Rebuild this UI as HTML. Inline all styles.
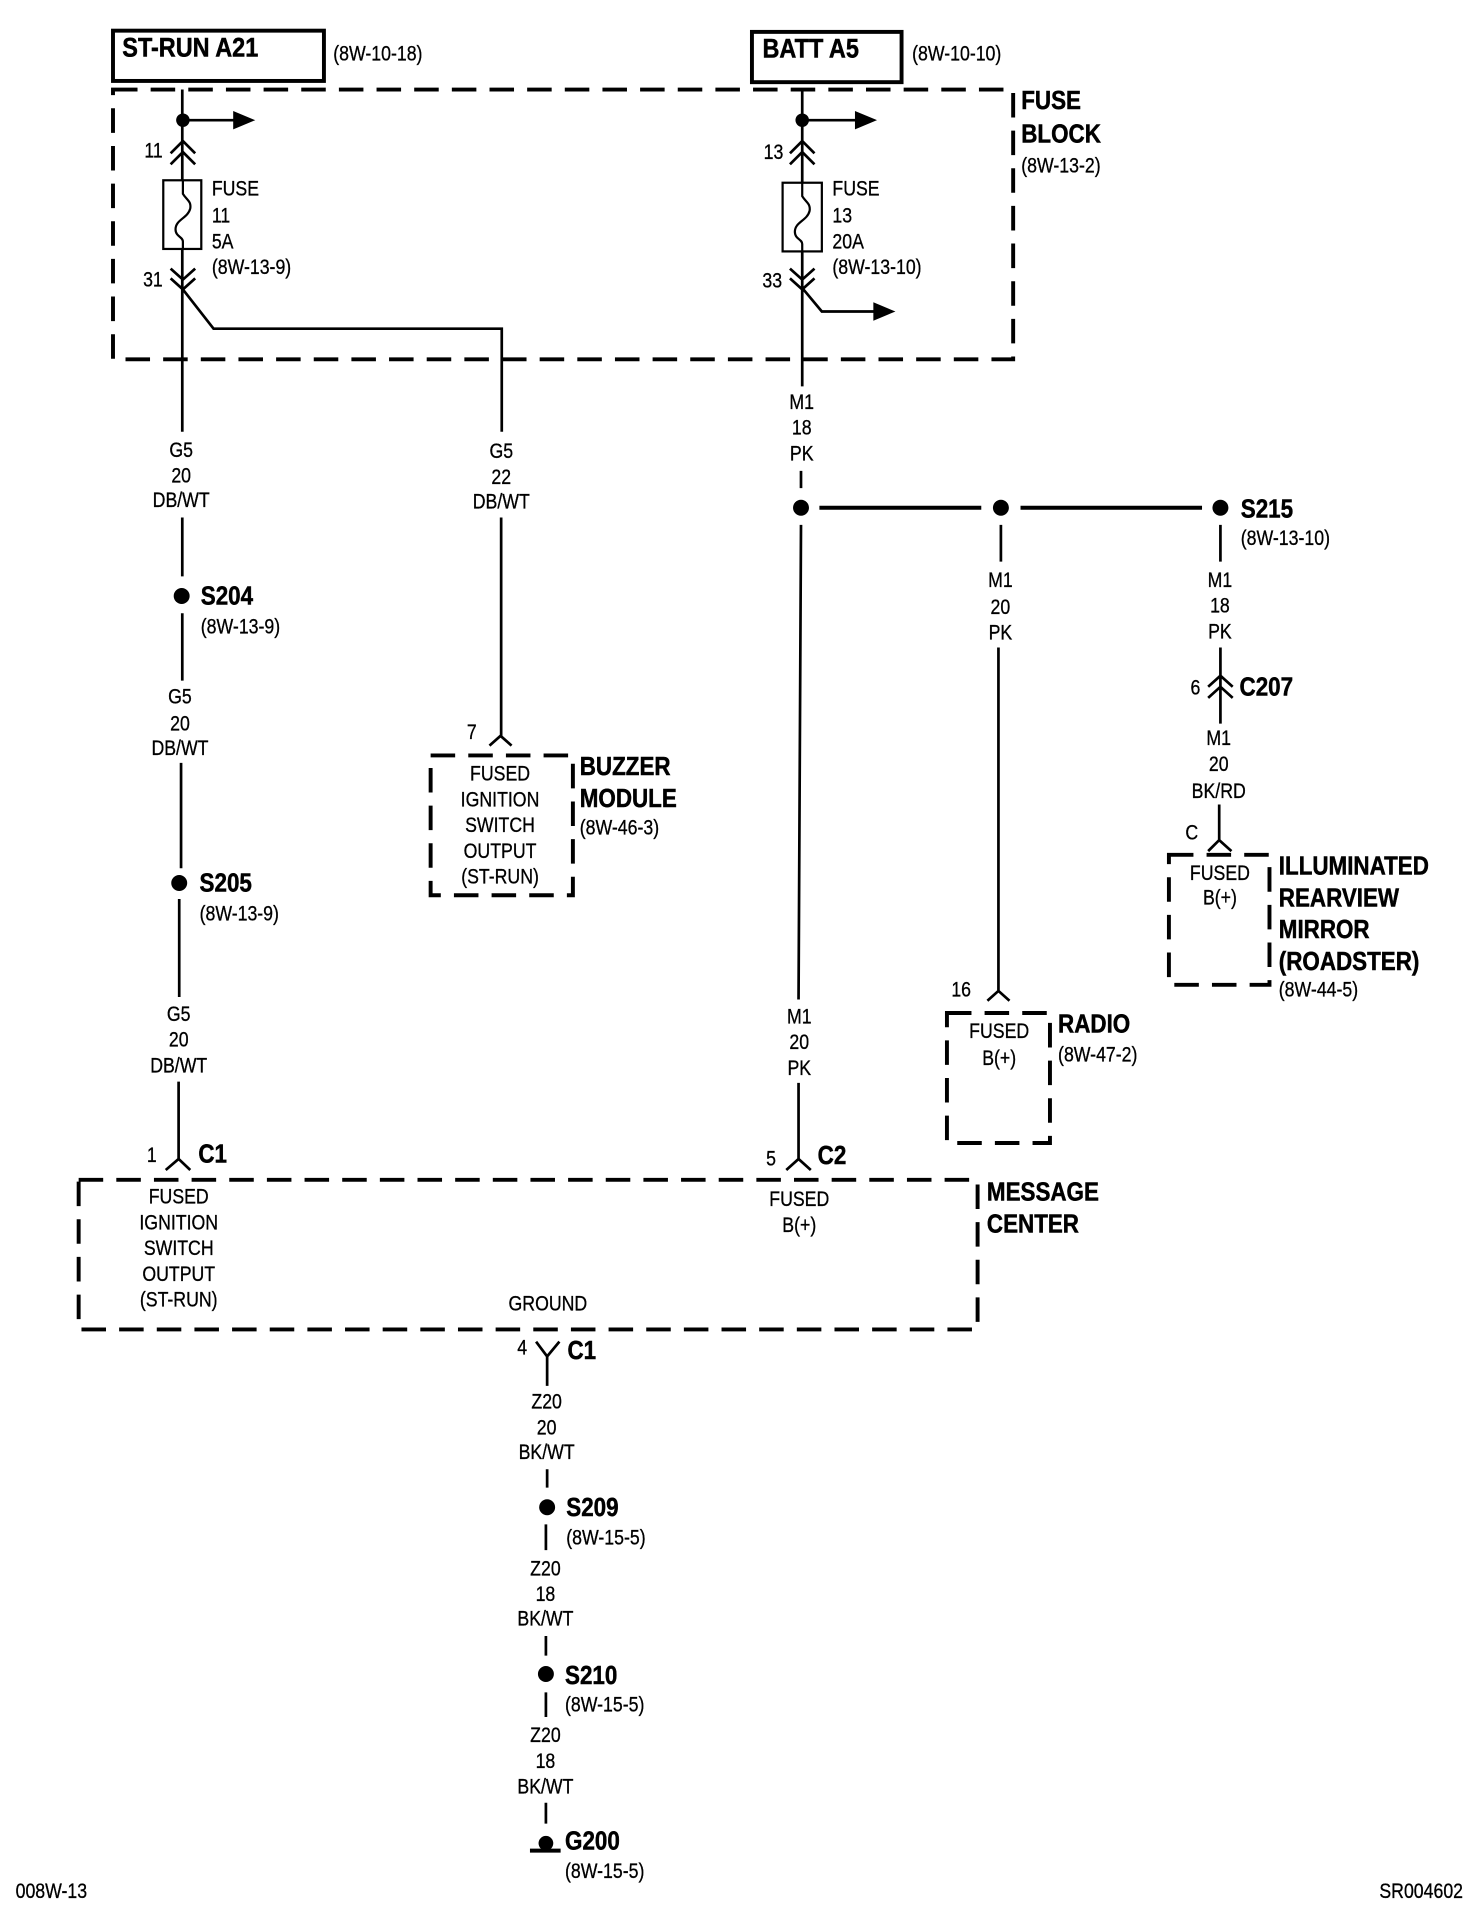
<!DOCTYPE html>
<html><head><meta charset="utf-8"><style>
html,body{margin:0;padding:0;background:#fff}
svg{display:block}
text{fill:#000;font-family:"Liberation Sans",sans-serif;stroke:#000;stroke-width:.25}
.m,.l,.e{font-size:17px;transform-box:fill-box;transform:translate(-.4px,-.5px) scaleX(.85)}
.m{text-anchor:middle;transform-origin:center}
.l{text-anchor:start;transform-origin:left}
.e{text-anchor:end;transform-origin:right}
.b{font-size:21px;font-weight:bold;transform-box:fill-box;transform:translate(-.4px,-1px) scaleX(.87);transform-origin:left;stroke-width:.4}
.t{font-size:22px}
.w{fill:none;stroke:#000;stroke-width:2.2}
.d{fill:none;stroke:#000;stroke-width:3.2;stroke-dasharray:20 10.7}
.f{fill:none;stroke:#000;stroke-width:1.8}
.k{fill:none;stroke:#000;stroke-width:3.2}
</style></head><body>
<svg xmlns="http://www.w3.org/2000/svg" width="1472" height="1922" viewBox="0 0 1200 1567.2">
<rect width="1200" height="1567.2" fill="#fff"/>
<!-- top boxes -->
<rect class="k" x="92" y="25" width="172" height="41"/>
<rect class="k" x="613" y="26" width="122" height="41"/>
<text class="b t" x="100" y="47">ST-RUN A21</text>
<text class="l" x="272" y="50">(8W-10-18)</text>
<text class="b t" x="622" y="48">BATT A5</text>
<text class="l" x="744" y="50">(8W-10-10)</text>
<!-- fuse block -->
<rect class="d" x="92" y="73" width="734" height="220"/>
<text class="b" x="833" y="90">FUSE</text>
<text class="b" x="833" y="117">BLOCK</text>
<text class="l" x="833" y="141">(8W-13-2)</text>
<!-- left fuse -->
<path class="w" d="M148.500 73V147M148.500 203V352M149 98H192M139 125L149 115L159 125M139 134L149 124L159 134M139 219L149 228L159 219M139 227L149 236L159 227M149 236L174 268H409V352"/>
<circle cx="149" cy="98" r="5.500"/><path d="M190 90.500L208 98L190 105.500Z"/>
<rect class="f" x="133" y="147" width="31" height="56"/>
<path class="f" d="M149 147V158C152 163 156 164 155 170C153 178 143 179 143 187C143 193 149 193 149 197V203"/>
<text class="e" x="133" y="129">11</text><text class="e" x="133" y="234">31</text>
<text class="l" x="173" y="160">FUSE</text><text class="l" x="173" y="182">11</text><text class="l" x="173" y="203">5A</text><text class="l" x="173" y="224">(8W-13-9)</text>
<!-- right fuse -->
<path class="w" d="M654 73V149M654 205V315M654 98H699M644 125L654 115L664 125M644 134L654 124L664 134M644 219L654 228L664 219M644 227L654 236L664 227M655 236L670 254H714"/>
<circle cx="654" cy="98" r="5.500"/><path d="M697 90.500L715 98L697 105.500Z"/><path d="M712 246.500L730 254L712 261.500Z"/>
<rect class="f" x="638" y="149" width="32" height="56"/>
<path class="f" d="M654 149V160C657 165 661 166 660 172C658 180 648 181 648 189C648 195 654 195 654 199V205"/>
<text class="e" x="639" y="130">13</text><text class="e" x="638" y="235">33</text>
<text class="l" x="679" y="160">FUSE</text><text class="l" x="679" y="182">13</text><text class="l" x="679" y="203">20A</text><text class="l" x="679" y="224">(8W-13-10)</text>
<!-- left column -->
<text class="m" x="148" y="373">G5</text><text class="m" x="148" y="394">20</text><text class="m" x="148" y="414">DB/WT</text>
<path class="w" d="M148.500 422V470M148.500 500V555M147.500 622V708M146 733V813M145.500 882V945M135 954L145.500 945L155 954"/>
<circle cx="148" cy="486" r="6.500"/>
<text class="b" x="164" y="494">S204</text><text class="l" x="164" y="517">(8W-13-9)</text>
<text class="m" x="147" y="574">G5</text><text class="m" x="147" y="596">20</text><text class="m" x="147" y="616">DB/WT</text>
<circle cx="146" cy="720" r="6.500"/>
<text class="b" x="163" y="728">S205</text><text class="l" x="163" y="751">(8W-13-9)</text>
<text class="m" x="146" y="833">G5</text><text class="m" x="146" y="854">20</text><text class="m" x="146" y="875">DB/WT</text>
<text class="m" x="124" y="948">1</text><text class="b" x="162" y="949">C1</text>
<!-- buzzer -->
<text class="m" x="409" y="374">G5</text><text class="m" x="409" y="395">22</text><text class="m" x="409" y="415">DB/WT</text>
<path class="w" d="M408.500 422V600M399 608L408 600L417 608"/>
<text class="m" x="385" y="603">7</text>
<rect class="d" x="351" y="616" width="116" height="114"/>
<text class="m" x="408" y="637">FUSED</text><text class="m" x="408" y="658">IGNITION</text><text class="m" x="408" y="679">SWITCH</text><text class="m" x="408" y="700">OUTPUT</text><text class="m" x="408" y="721">(ST-RUN)</text>
<text class="b" x="473" y="633">BUZZER</text><text class="b" x="473" y="659">MODULE</text><text class="l" x="473" y="681">(8W-46-3)</text>
<!-- M1 -->
<text class="m" x="654" y="334">M1</text><text class="m" x="654" y="355">18</text><text class="m" x="654" y="376">PK</text>
<path class="w" d="M653 384V398M653 428L651 815M651 883V945M641 954L651 945L661 954"/>
<path class="k" d="M668 414H800M832 414H980"/>
<circle cx="653" cy="414" r="6.500"/><circle cx="816" cy="414" r="6.500"/><circle cx="995" cy="414" r="6.500"/>
<text class="b" x="1012" y="423">S215</text><text class="l" x="1012" y="445">(8W-13-10)</text>
<text class="m" x="652" y="835">M1</text><text class="m" x="652" y="856">20</text><text class="m" x="652" y="877">PK</text>
<text class="m" x="629" y="951">5</text><text class="b" x="667" y="950">C2</text>
<!-- radio -->
<path class="w" d="M816 428V458M814 528V808M805 816L814 808L823 816"/>
<text class="m" x="816" y="479">M1</text><text class="m" x="816" y="501">20</text><text class="m" x="816" y="522">PK</text>
<text class="m" x="784" y="813">16</text>
<rect class="d" x="772" y="826" width="84" height="106"/>
<text class="m" x="815" y="847">FUSED</text><text class="m" x="815" y="869">B(+)</text>
<text class="b" x="863" y="843">RADIO</text><text class="l" x="863" y="866">(8W-47-2)</text>
<!-- mirror -->
<path class="w" d="M995 428V458M995 528V590M985 560L995 551L1005 560M985 569L995 560L1005 569M994 656V685M985 694L994 685L1004 694"/>
<text class="m" x="995" y="479">M1</text><text class="m" x="995" y="500">18</text><text class="m" x="995" y="521">PK</text>
<text class="m" x="975" y="567">6</text><text class="b" x="1011" y="568">C207</text>
<text class="m" x="994" y="608">M1</text><text class="m" x="994" y="629">20</text><text class="m" x="994" y="651">BK/RD</text>
<text class="m" x="972" y="685">C</text>
<rect class="d" x="953" y="697" width="82" height="106"/>
<text class="m" x="995" y="718">FUSED</text><text class="m" x="995" y="738">B(+)</text>
<text class="b" x="1043" y="714">ILLUMINATED</text><text class="b" x="1043" y="740">REARVIEW</text><text class="b" x="1043" y="766">MIRROR</text><text class="b" x="1043" y="792">(ROADSTER)</text><text class="l" x="1043" y="813">(8W-44-5)</text>
<!-- message center -->
<rect class="d" x="64" y="962" width="733" height="122"/>
<text class="m" x="146" y="982">FUSED</text><text class="m" x="146" y="1003">IGNITION</text><text class="m" x="146" y="1024">SWITCH</text><text class="m" x="146" y="1045">OUTPUT</text><text class="m" x="146" y="1066">(ST-RUN)</text>
<text class="m" x="447" y="1069">GROUND</text>
<text class="m" x="652" y="984">FUSED</text><text class="m" x="652" y="1005">B(+)</text>
<text class="b" x="805" y="980">MESSAGE</text><text class="b" x="805" y="1006">CENTER</text>
<!-- bottom -->
<path class="w" d="M437 1094L446 1106L456 1094M446 1106V1130M446 1198V1213M445 1243V1264M445 1334V1350M445 1380V1400M445 1470V1487"/>
<text class="m" x="426" y="1105">4</text><text class="b" x="463" y="1109">C1</text>
<text class="m" x="446" y="1149">Z20</text><text class="m" x="446" y="1170">20</text><text class="m" x="446" y="1190">BK/WT</text>
<circle cx="446" cy="1229" r="6.500"/>
<text class="b" x="462" y="1237">S209</text><text class="l" x="462" y="1260">(8W-15-5)</text>
<text class="m" x="445" y="1285">Z20</text><text class="m" x="445" y="1306">18</text><text class="m" x="445" y="1326">BK/WT</text>
<circle cx="445" cy="1365" r="6.500"/>
<text class="b" x="461" y="1374">S210</text><text class="l" x="461" y="1396">(8W-15-5)</text>
<text class="m" x="445" y="1421">Z20</text><text class="m" x="445" y="1442">18</text><text class="m" x="445" y="1463">BK/WT</text>
<circle cx="445" cy="1503" r="6"/><path class="k" d="M432 1509H457"/>
<text class="b" x="461" y="1509">G200</text><text class="l" x="461" y="1532">(8W-15-5)</text>
<text class="l" x="13" y="1548">008W-13</text>
<text class="l" x="1125" y="1548">SR004602</text>
</svg>
</body></html>
